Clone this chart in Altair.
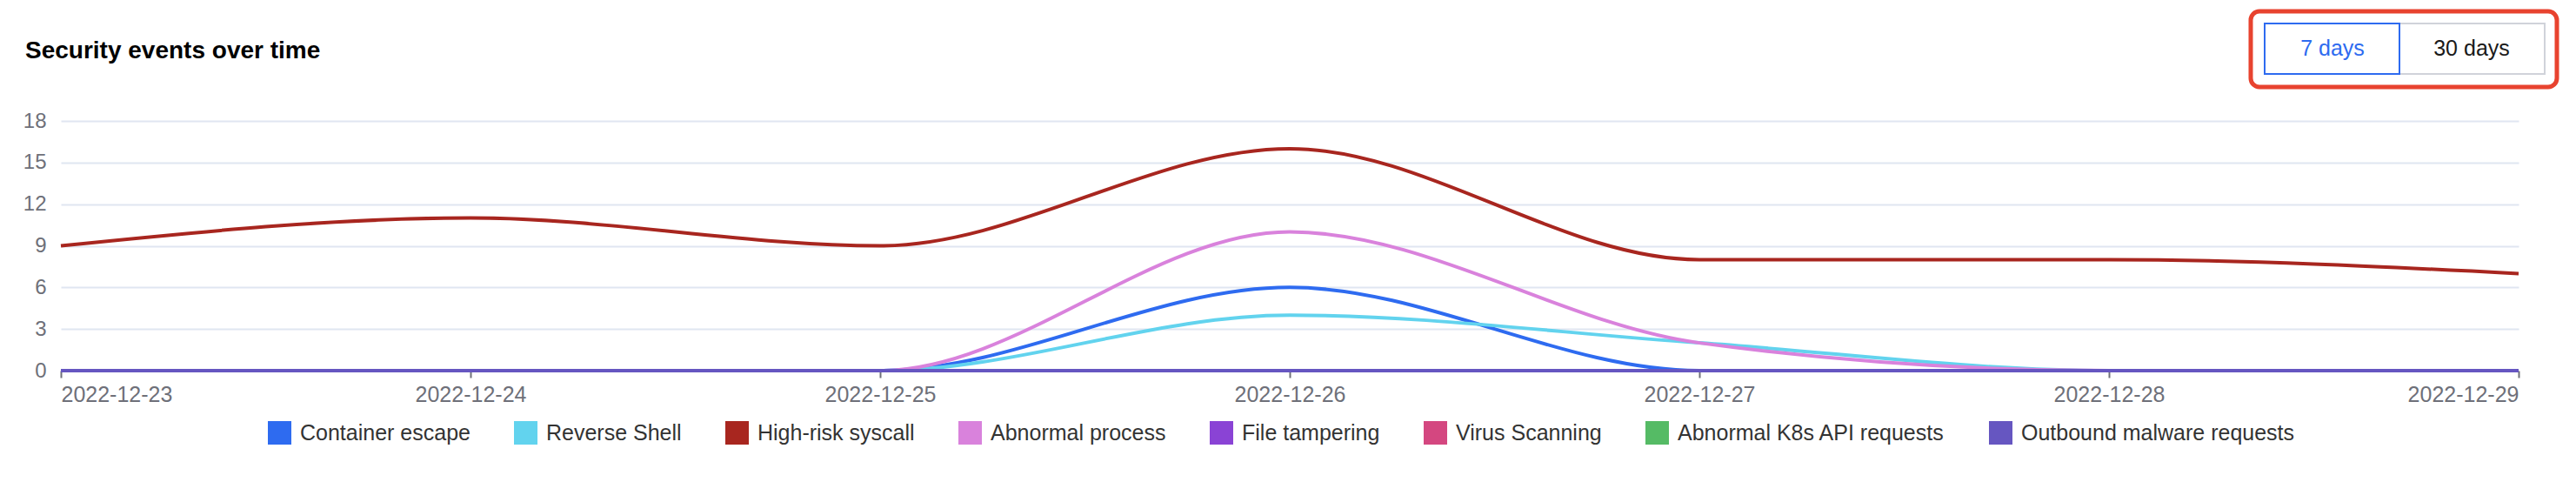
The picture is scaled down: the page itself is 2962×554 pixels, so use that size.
import altair as alt
import pandas as pd

# ---- data ----
dates = ["2022-12-23", "2022-12-24", "2022-12-25", "2022-12-26",
         "2022-12-27", "2022-12-28", "2022-12-29"]
series_names = ["Container escape", "Reverse Shell", "High-risk syscall",
                "Abnormal process", "File tampering", "Virus Scanning",
                "Abnormal K8s API requests", "Outbound malware requests"]
series_colors = ["#2E6BF0", "#62D3EE", "#A8261F", "#D982DC",
                 "#8A43D5", "#D44780", "#55BB65", "#6656C1"]

container_escape = [0, 0, 0, 6, 0, 0, 0]
reverse_shell = [0, 0, 0, 4, 2, 0, 0]
high_risk_syscall = [9, 11, 9, 16, 8, 8, 7]
abnormal_process = [0, 0, 0, 10, 2, 0, 0]
file_tampering = [0, 0, 0, 0, 0, 0, 0]
virus_scanning = [0, 0, 0, 0, 0, 0, 0]
abnormal_k8s_api = [0, 0, 0, 0, 0, 0, 0]
outbound_malware = [0, 0, 0, 0, 0, 0, 0]

y_ticks = [0, 3, 6, 9, 12, 15, 18]
chart_title = "Security events over time"
button_labels = ["7 days", "30 days"]

series_values = [container_escape, reverse_shell, high_risk_syscall,
                 abnormal_process, file_tampering, virus_scanning,
                 abnormal_k8s_api, outbound_malware]

rows = []
for name, vals in zip(series_names, series_values):
    for d, v in zip(dates, vals):
        rows.append({"date": d, "series": name, "value": v})
df = pd.DataFrame(rows)

tick_dates = [alt.DateTime(year=int(d[:4]), month=int(d[5:7]), date=int(d[8:]), utc=True)
              for d in dates]

x_enc = alt.X(
    "date:T",
    scale=alt.Scale(type="utc", nice=False),
    axis=alt.Axis(
        title=None, values=tick_dates,
        labelExpr="utcFormat(datum.value, '%Y-%m-%d')",
        grid=False, domain=False, ticks=True, tickColor="#6E7079",
        tickSize=8, tickWidth=2, labelFontSize=25, labelColor="#6E7079",
        labelPadding=7, labelFlush=True, labelOverlap=False,
    ),
)
y_enc = alt.Y(
    "value:Q",
    scale=alt.Scale(domain=[0, 18], nice=False),
    axis=alt.Axis(
        title=None, values=y_ticks, grid=True, gridColor="#E0E6F1",
        gridWidth=2, domain=False, ticks=False, labelFontSize=24,
        labelColor="#6E7079", labelPadding=17,
    ),
)

legend_layer = alt.Chart(df).mark_square(opacity=0).encode(
    x=x_enc,
    y=y_enc,
    fill=alt.Fill(
        "series:N",
        sort=series_names,
        scale=alt.Scale(domain=series_names, range=series_colors),
        legend=alt.Legend(
            title=None, orient="none", legendX=238, legendY=345,
            direction="horizontal", columns=8, symbolType="square",
            symbolSize=729, symbolStrokeWidth=0, symbolOpacity=1,
            labelFontSize=25, labelColor="#333333", labelOffset=10,
            columnPadding=50, labelLimit=0,
        ),
    ),
)

lines = alt.Chart(df).mark_line(interpolate="monotone", strokeWidth=4).encode(
    x=x_enc,
    y=y_enc,
    stroke=alt.Stroke(
        "series:N",
        sort=series_names,
        scale=alt.Scale(domain=series_names, range=series_colors),
        legend=None,
    ),
)

one = pd.DataFrame({"k": [1]})
outer_box = alt.Chart(one).mark_rect(
    fill="white", stroke="#E8432F", strokeWidth=5, cornerRadius=10
).encode(x=alt.value(2518), x2=alt.value(2870), y=alt.value(-126), y2=alt.value(-39))
btn30_box = alt.Chart(one).mark_rect(
    fill="white", stroke="#D0D3DA", strokeWidth=2
).encode(x=alt.value(2689), x2=alt.value(2856), y=alt.value(-112), y2=alt.value(-54))
btn7_box = alt.Chart(one).mark_rect(
    fill="white", stroke="#2E6BF0", strokeWidth=2
).encode(x=alt.value(2534), x2=alt.value(2689), y=alt.value(-112), y2=alt.value(-54))
btn7_text = alt.Chart(one).mark_text(
    text=button_labels[0], fontSize=25, color="#2E6BF0", align="center", baseline="middle"
).encode(x=alt.value(2612), y=alt.value(-83))
btn30_text = alt.Chart(one).mark_text(
    text=button_labels[1], fontSize=25, color="#1A1A1A", align="center", baseline="middle"
).encode(x=alt.value(2772), y=alt.value(-83))

chart = alt.layer(
    legend_layer, lines, outer_box, btn30_box, btn7_box, btn7_text, btn30_text
).properties(
    width=2826,
    height=287,
    autosize=alt.AutoSizeParams(type="none"),
    padding={"left": 62, "top": 131, "right": 58, "bottom": 94},
    view=alt.ViewBackground(strokeWidth=0, stroke="transparent"),
    title=alt.TitleParams(
        chart_title, anchor="start", frame="group", dx=-41, fontSize=28,
        fontWeight="bold", color="#000000", baseline="alphabetic", offset=-84,
    ),
).configure_view(
    stroke="transparent", strokeWidth=0
).configure(font="Liberation Sans")

chart.save("out.html", embed_options={"renderer": "svg", "actions": False})
